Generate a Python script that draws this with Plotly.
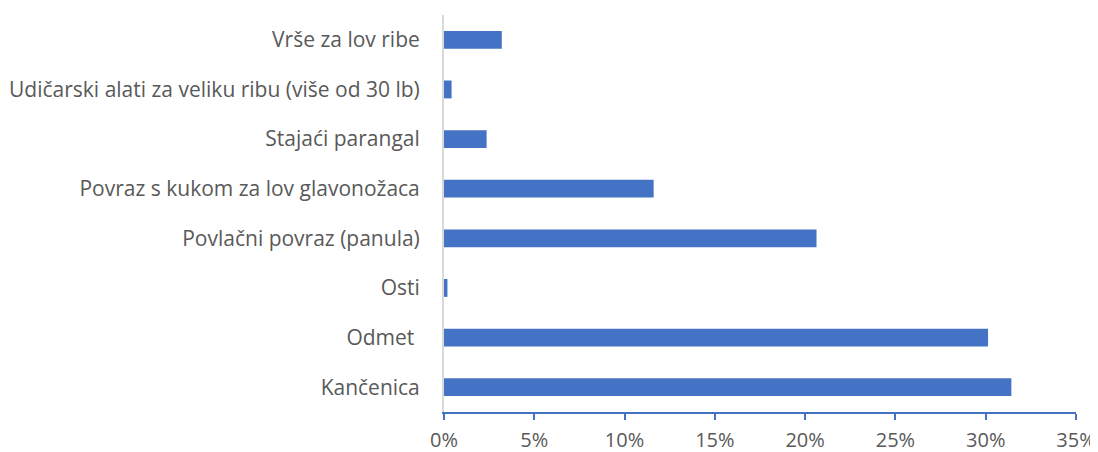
import plotly.graph_objects as go

categories = ["Kančenica", "Odmet ", "Osti", "Povlačni povraz (panula)",
              "Povraz s kukom za lov glavonožaca", "Stajaći parangal",
              "Udičarski alati za veliku ribu (više od 30 lb)", "Vrše za lov ribe"]
values = [0.3142, 0.3013, 0.0019, 0.2063, 0.1161, 0.0236, 0.0042, 0.0320]
tick_vals = [0, 0.05, 0.10, 0.15, 0.20, 0.25, 0.30, 0.35]
tick_text = ["0%", "5%", "10%", "15%", "20%", "25%", "30%", "35%"]

fig = go.Figure(go.Bar(
    y=categories, x=values, orientation="h",
    marker=dict(color="#4472C4", line=dict(width=0)),
    width=0.36,
))

fig.update_layout(
    width=1090, height=444,
    margin=dict(l=436, r=22, t=7, b=40),
    paper_bgcolor="white", plot_bgcolor="white",
    font=dict(family="Open Sans, sans-serif", size=20, color="#595959"),
    showlegend=False,
    xaxis=dict(
        range=[0, 0.35], tickvals=tick_vals, ticktext=tick_text,
        showgrid=False, zeroline=False, automargin=False,
        showline=True, linecolor="#4472C4", linewidth=1.5,
        ticks="outside", ticklen=6, tickcolor="#4472C4", tickwidth=1.5,
        tickfont=dict(size=20, color="#595959"),
        ticklabeloverflow="allow", ticklabelstandoff=3,
    ),
    yaxis=dict(
        categoryorder="array", categoryarray=categories,
        showgrid=False, zeroline=False, automargin=False,
        showline=True, linecolor="#D9D9D9", linewidth=2,
        ticks="", ticklabelstandoff=18,
        tickfont=dict(size=21, color="#595959"),
    ),
)

fig.write_html("out.html")
